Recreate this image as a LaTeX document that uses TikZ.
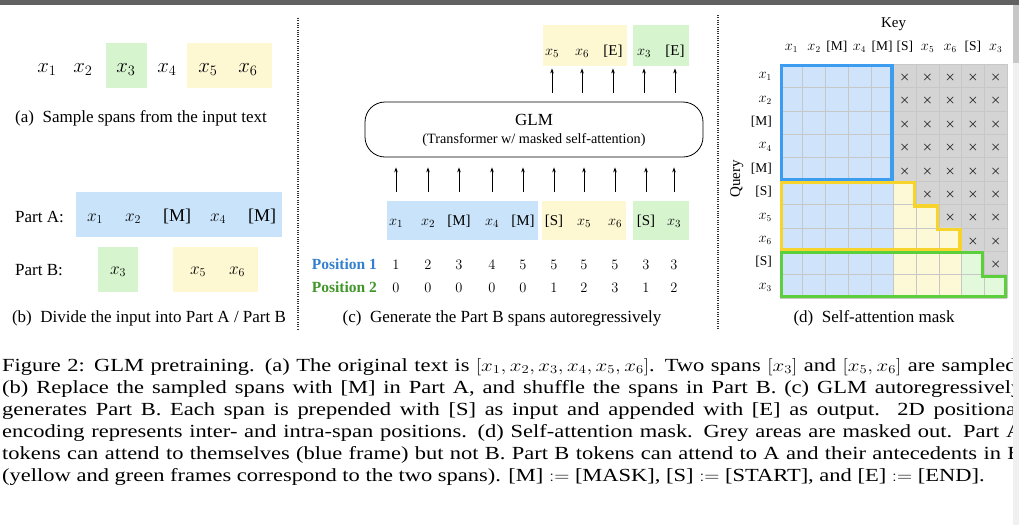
\documentclass[tikz,border=0pt]{standalone}
\usepackage{fontspec}
\setmainfont{Liberation Serif}
\usetikzlibrary{arrows.meta}
\definecolor{tokblue}{RGB}{201,228,250}
\definecolor{tokgreen}{RGB}{214,244,206}
\definecolor{tokyellow}{RGB}{253,247,210}
\definecolor{cellblue}{RGB}{207,228,250}
\definecolor{cellyellow}{RGB}{253,249,214}
\definecolor{cellgreen}{RGB}{226,249,219}
\definecolor{cellgrey}{RGB}{212,212,212}
\definecolor{frameblue}{RGB}{60,156,240}
\definecolor{frameyellow}{RGB}{246,212,43}
\definecolor{framegreen}{RGB}{92,207,61}
\definecolor{posone}{RGB}{52,128,206}
\definecolor{postwo}{RGB}{64,150,40}
\definecolor{barcol}{RGB}{97,97,97}

\begin{document}
\begin{tikzpicture}[x=1pt,y=-1pt,>={Stealth[length=5pt,width=3.6pt]}]
    \tikzstyle{tokA}=[inner sep=0pt, text height=13pt, text depth=4.5pt, font=\fontsize{20}{24}\selectfont]
    \tikzstyle{tokB}=[inner sep=0pt, text height=12pt, text depth=4pt, font=\fontsize{18}{22}\selectfont]
    \tikzstyle{tokC}=[inner sep=0pt, text height=10pt, text depth=3.5pt, font=\fontsize{15}{18}\selectfont]
    \tikzstyle{tokD}=[inner sep=0pt, text height=9pt, text depth=3pt, font=\fontsize{13.5}{16}\selectfont]
    \tikzstyle{num}=[inner sep=0pt, text height=10pt, text depth=0pt, font=\fontsize{15}{18}\selectfont]
    \tikzstyle{poslabel}=[num, anchor=east, font=\fontsize{15.5}{18}\selectfont\bfseries]
    \tikzstyle{sub}=[anchor=base, inner sep=0pt, font=\fontsize{17}{20}\selectfont]
    \tikzstyle{partlabel}=[anchor=base west, inner sep=0pt, font=\fontsize{17}{20}\selectfont]
    \tikzstyle{capline}=[anchor=base west, inner sep=0pt, xscale=1.215, font=\fontsize{18.5}{22}\selectfont]
    \tikzstyle{sep}=[line width=1.1pt, dash pattern=on 1pt off 1.3pt, black!80]
    \tikzstyle{glmbox}=[draw, rounded corners=20pt, line width=0.8pt, minimum width=338pt, minimum height=55pt]
    \tikzstyle{masked}=[inner sep=0pt, text=black!90, font=\fontsize{11.5}{14}\selectfont\boldmath]

    \useasboundingbox (0,0) rectangle (1019,525);
    \fill[white] (0,0) rectangle (1019,525);
    \fill[barcol] (0,0) rectangle (1019,5);

    % (a) sample spans
    \node[fill=tokgreen, minimum width=41pt, minimum height=45pt] (agreen) at (126.5,65.5) {};
    \node[fill=tokyellow, minimum width=85pt, minimum height=45pt] (ayellow) at (229.5,65.5) {};
    \foreach \x/\t [count=\i] in {47/$x_1$, 83/$x_2$, 126/$x_3$, 167/$x_4$, 208/$x_5$, 248/$x_6$}
        \node[tokA] (a\i) at (\x,68) {\t};
    \node[sub] (capa) at (141,122.5) {(a)\enspace Sample spans from the input text};

    % (b) part A / part B
    \node[fill=tokblue, minimum width=206pt, minimum height=45pt] (bblue) at (179,214.5) {};
    \node[fill=tokgreen, minimum width=40pt, minimum height=45pt] (bgreen) at (118,269.5) {};
    \node[fill=tokyellow, minimum width=85pt, minimum height=45pt] (byellow) at (215.5,269.5) {};
    \node[partlabel] (parta) at (15,222.5) {Part A:};
    \node[partlabel] (partb) at (15,275.5) {Part B:};
    \foreach \x/\t [count=\i] in {95/$x_1$, 133/$x_2$, 177/[M], 218/$x_4$, 262/[M]}
        \node[tokB] (pa\i) at (\x,217) {\t};
    \foreach \x/\t [count=\i] in {118/$x_3$, 198/$x_5$, 237/$x_6$}
        \node[tokB] (pb\i) at (\x,270) {\t};
    \node[sub] (capb) at (149,322.5) {(b)\enspace Divide the input into Part A / Part B};

    \coordinate (sepat) at (298,18);
    \coordinate (sepab) at (298,330);
    \draw[sep] (sepat) -- (sepab);

    % (c) generation
    \node[fill=tokyellow, minimum width=84pt, minimum height=41pt] (oyellow) at (585,45.5) {};
    \node[fill=tokgreen, minimum width=56pt, minimum height=41pt] (ogreen) at (661,45.5) {};
    \foreach \x/\t [count=\i] in {552/$x_5$, 582/$x_6$, 613/[E], 644/$x_3$, 675/[E]}
        \node[tokC] (out\i) at (\x,52) {\t};

    \node[glmbox] (glm) at (534,129.5) {};
    \node[font=\fontsize{17}{20}\selectfont] (glmname) at (534,120) {GLM};
    \node[font=\fontsize{14.2}{17}\selectfont] (glmsub) at (534,140) {(Transformer w/ masked self-attention)};

    \node[fill=tokblue, minimum width=151pt, minimum height=39pt] (iblue) at (462.5,220.5) {};
    \node[fill=tokyellow, minimum width=84pt, minimum height=39pt] (iyellow) at (584,220.5) {};
    \node[fill=tokgreen, minimum width=56pt, minimum height=39pt] (igreen) at (661,220.5) {};
    \foreach \x/\t [count=\i] in {396/$x_1$, 428/$x_2$, 459/[M], 492/$x_4$, 523/[M], 554/[S], 584/$x_5$, 615/$x_6$, 646/[S], 674/$x_3$}
        \node[tokC] (in\i) at (\x,222) {\t};

    \foreach \i in {1,...,10}
        \draw[->, line width=0.8pt, shorten <=23pt, shorten >=10pt] (in\i.north) -- (in\i.north |- glm.south);
    \foreach \i in {1,...,5}
        \draw[->, line width=0.8pt, shorten <=9pt, shorten >=9.5pt] (out\i.south |- glm.north) -- (out\i.south);

    \node[poslabel, text=posone] (pos1) at (377,264) {Position 1};
    \node[poslabel, text=postwo] (pos2) at (377,287) {Position 2};
    \foreach \x/\a/\b [count=\i] in {396/1/0, 428/2/0, 459/3/0, 492/4/0, 523/5/0, 554/5/1, 584/5/2, 615/5/3, 646/3/1, 674/3/2} {
        \node[num] (pone\i) at (\x,264) {$\a$};
        \node[num] (ptwo\i) at (\x,287) {$\b$};
    }
    \node[sub] (capc) at (502,322.5) {(c)\enspace Generate the Part B spans autoregressively};

    \coordinate (sepbt) at (718,15);
    \coordinate (sepbb) at (718,330);
    \draw[sep] (sepbt) -- (sepbb);

    % (d) attention mask
    \begin{scope}[shift={(780,64)}, x=22.7pt, y=-23.4pt]
        \fill[cellblue] (0,0) rectangle (5,10);
        \fill[cellgrey] (5,0) rectangle (10,10);
        \fill[cellyellow] (5,5) -- (6,5) -- (6,6) -- (7,6) -- (7,7) -- (8,7) -- (8,10) -- (5,10) -- cycle;
        \fill[cellgreen] (8,8) -- (9,8) -- (9,9) -- (10,9) -- (10,10) -- (8,10) -- cycle;
        \foreach \k in {0,...,10} {
            \draw[black!22, line width=0.5pt] (\k,0) -- (\k,10);
            \draw[black!22, line width=0.5pt] (0,\k) -- (10,\k);
        }
        \foreach \r in {0,...,8} {
            \pgfmathtruncatemacro{\first}{max(5,\r+1)}
            \foreach \c in {\first,...,9}
                \node[masked] (m\r\c) at (\c+0.5,\r+0.58) {$\times$};
        }
        \draw[frameblue, line width=3.2pt] (0.07,0.07) rectangle (4.93,4.93);
        \draw[frameyellow, line width=3.2pt] (0.07,5.07) -- (5.93,5.07) -- (5.93,6.07) -- (6.93,6.07) -- (6.93,7.07) -- (7.93,7.07) -- (7.93,7.93) -- (0.07,7.93) -- cycle;
        \draw[framegreen, line width=3.2pt] (0.07,8.07) -- (8.93,8.07) -- (8.93,9.07) -- (9.93,9.07) -- (9.93,9.93) -- (0.07,9.93) -- cycle;
        \foreach \t [count=\j from 0] in {$x_1$, $x_2$, [M], $x_4$, [M], [S], $x_5$, $x_6$, [S], $x_3$} {
            \node[tokD] (key\j) at (\j+0.5,-0.7) {\t};
            \node[tokD, anchor=east] (qry\j) at (-0.35,\j+0.5) {\t};
        }
        \node[font=\fontsize{15}{18}\selectfont] (keylabel) at (5,-1.7) {Key};
        \node[font=\fontsize{15}{18}\selectfont, rotate=90] (qrylabel) at (-1.9,4.9) {Query};
    \end{scope}
    \node[sub] (capd) at (874,322.5) {(d)\enspace Self-attention mask};

    % figure caption
    \node[capline] (cap1) at (2,371) {\hbox to 839.5pt{Figure 2: GLM pretraining. (a) The original text is $[x_1,x_2,x_3,x_4,x_5,x_6]$. Two spans $[x_3]$ and $[x_5,x_6]$ are sampled.}};
    \node[capline] (cap2) at (2,393) {\hbox to 839.5pt{(b) Replace the sampled spans with [M] in Part A, and shuffle the spans in Part B. (c) GLM autoregressively}};
    \node[capline] (cap3) at (2,415) {\hbox to 839.5pt{generates Part B. Each span is prepended with [S] as input and appended with [E] as output.\ \ 2D positional}};
    \node[capline] (cap4) at (2,437) {\hbox to 839.5pt{encoding represents inter- and intra-span positions. (d) Self-attention mask. Grey areas are masked out. Part A}};
    \node[capline] (cap5) at (2,459) {\hbox to 839.5pt{tokens can attend to themselves (blue frame) but not B. Part B tokens can attend to A and their antecedents in B}};
    \node[capline] (cap6) at (2,481) {(yellow and green frames correspond to the two spans). [M] $:=$ [MASK], [S] $:=$ [START], and [E] $:=$ [END].};

    \fill[black!6] (1013,5) rectangle (1019,525);
    \fill[black!22] (1013,5) rectangle (1019,63);
\end{tikzpicture}
\end{document}
